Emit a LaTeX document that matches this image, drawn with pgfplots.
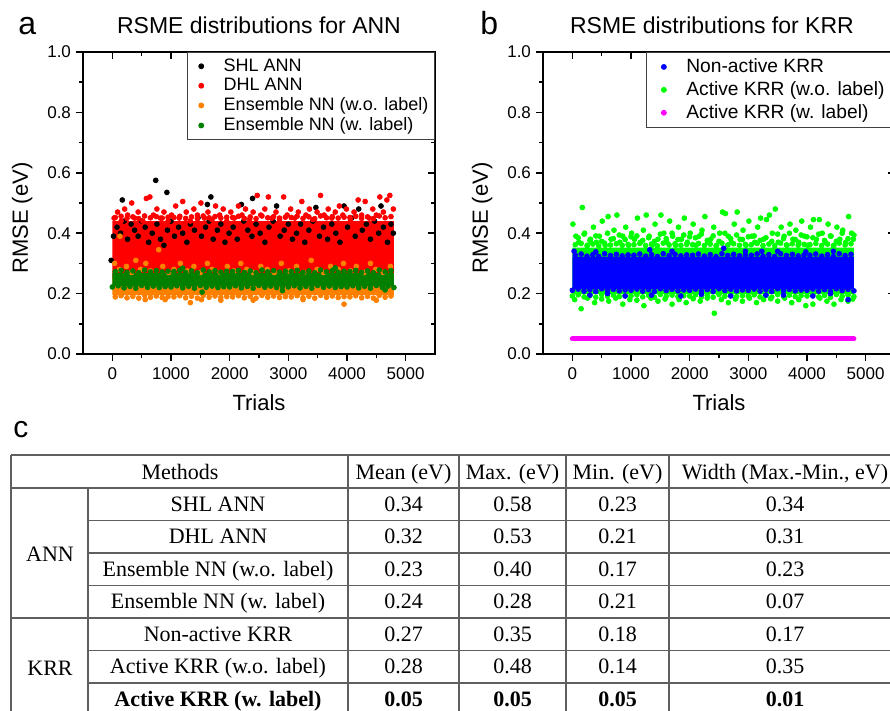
\documentclass[border=0pt]{standalone}
\usepackage{fontspec}
\setmainfont{Liberation Sans}
\newfontfamily\tabfont{Liberation Serif}
\usepackage{pgfplots}
\pgfplotsset{compat=1.18}

\definecolor{shl}{RGB}{0,0,0}
\definecolor{dhl}{RGB}{255,0,0}
\definecolor{ensA}{RGB}{255,128,0}
\definecolor{ensB}{RGB}{0,128,0}
\definecolor{nonact}{RGB}{0,0,255}
\definecolor{actA}{RGB}{0,255,0}
\definecolor{actB}{RGB}{255,0,255}
\definecolor{rule}{RGB}{95,95,95}

\pgfplotsset{
  rmse/.style={
    scale only axis, width=176pt, height=151pt,
    xmin=-500, xmax=5500, ymin=0, ymax=1,
    xtick={0,1000,2000,3000,4000,5000},
    ytick={0,0.2,0.4,0.6,0.8,1.0},
    minor x tick num=1, minor y tick num=1,
    axis line style={line width=0.8pt},
    major tick length=3.5pt, minor tick length=2pt,
    every tick/.style={black, line width=0.8pt},
  },
  ticksout/.style={
    rmse, tick pos=left, tick align=outside,
    /pgf/number format/assume math mode=true,
    tick label style={font=\fontsize{8.5}{10}\selectfont},
    xticklabel style={/pgf/number format/1000 sep={}},
    yticklabel style={/pgf/number format/fixed, /pgf/number format/fixed zerofill,
                      /pgf/number format/precision=1, xshift=1pt},
    label style={font=\fontsize{11}{13}\selectfont},
    title style={font=\fontsize{11.5}{13}\selectfont, at={(axis description cs:0.5,1)}, anchor=center, yshift=7.5pt},
    xlabel style={at={(axis description cs:0.5,0)}, anchor=center, yshift=-24.5pt},
    ylabel style={at={(axis description cs:-0.173,0.45)}, anchor=center},
    xlabel={Trials}, ylabel={RMSE (eV)},
    legend cell align=left,
    legend image code/.code={\path (0pt,0pt) (14.5pt,0pt); \draw[##1] plot coordinates {(5.5pt,0pt)};},
  },
  ticksin/.style={rmse, tick pos=right, tick align=inside, xticklabels={}, yticklabels={}},
  pts/.style={only marks, mark=*, mark size=1.2pt},
  dots/.style={pts, forget plot},
  band/.style={draw=none, fill=#1, forget plot},
}

\begin{document}
\begin{tikzpicture}
\useasboundingbox (0,0) rectangle (445pt,355.5pt);

% ---------------- panel a ----------------
\begin{axis}[ticksin, at={(41.5pt,178.5pt)}, anchor=south west]
\end{axis}
\begin{axis}[ticksout, at={(41.5pt,178.5pt)}, anchor=south west,
  title={RSME distributions for ANN},
  legend style={at={(1,1)}, anchor=north east, draw=black!75, line width=0.5pt,
    font=\fontsize{9}{10.5}\selectfont, inner xsep=1pt, inner ysep=1pt, row sep=-2pt}]
  % DHL ANN dense core
  \addplot[band=dhl] coordinates {(0,0.25) (0,0.44) (4800,0.44) (4800,0.25) (0,0.25)};
  % SHL ANN
  \addplot[dots, shl] coordinates {
    (170,0.51) (740,0.575) (930,0.535) (1680,0.52) (2390,0.515) (2200,0.495) (1620,0.495)
    (3950,0.49) (4580,0.49) (2800,0.49) (3470,0.485) (4200,0.48)
    (-20,0.31) (20,0.39) (80,0.42) (140,0.40) (200,0.44) (260,0.38) (320,0.43) (380,0.41)
    (440,0.39) (500,0.44) (560,0.42) (620,0.37) (680,0.40) (760,0.43) (820,0.38) (880,0.36)
    (940,0.41) (1000,0.44) (1060,0.39) (1130,0.42) (1200,0.40) (1270,0.37) (1330,0.43)
    (1400,0.41) (1460,0.45) (1520,0.39) (1590,0.42) (1650,0.44) (1720,0.38) (1790,0.41)
    (1850,0.43) (1920,0.37) (1990,0.40) (2060,0.42) (2130,0.38) (2240,0.44) (2310,0.41)
    (2380,0.39) (2450,0.43) (2520,0.40) (2600,0.37) (2670,0.42) (2740,0.44) (2860,0.39)
    (2930,0.41) (3000,0.43) (3070,0.38) (3140,0.40) (3210,0.43) (3280,0.37) (3350,0.41)
    (3420,0.44) (3530,0.39) (3600,0.42) (3670,0.38) (3740,0.43) (3810,0.40) (3880,0.37)
    (4010,0.42) (4080,0.45) (4140,0.39) (4260,0.41) (4330,0.43) (4400,0.38) (4470,0.44)
    (4540,0.40) (4620,0.42) (4690,0.37) (4750,0.43) (4790,0.40)};
  % DHL ANN upper spread
  \addplot[dots, dhl] coordinates {
    (50,.452) (150,.456) (250,.449) (350,.454) (450,.448) (550,.457) (650,.451) (750,.455) (850,.450) (950,.453)
    (1050,.452) (1150,.456) (1250,.449) (1350,.454) (1450,.448) (1550,.457) (1650,.451) (1750,.455) (1850,.450) (1950,.453)
    (2050,.452) (2150,.456) (2250,.449) (2350,.454) (2450,.448) (2550,.457) (2650,.451) (2750,.455) (2850,.450) (2950,.453)
    (3050,.452) (3150,.456) (3250,.449) (3350,.454) (3450,.448) (3550,.457) (3650,.451) (3750,.455) (3850,.450) (3950,.453)
    (4050,.452) (4150,.456) (4250,.449) (4350,.454) (4450,.448) (4550,.457) (4650,.451) (4750,.455)
    (30,0.45) (90,0.47) (150,0.44) (210,0.48) (260,0.46) (330,0.50) (380,0.45) (440,0.47)
    (520,0.44) (580,0.515) (640,0.52) (700,0.46) (760,0.48) (820,0.45) (880,0.47) (950,0.44)
    (1010,0.46) (1080,0.49) (1140,0.45) (1200,0.505) (1260,0.47) (1330,0.44) (1390,0.48)
    (1450,0.46) (1510,0.50) (1570,0.45) (1630,0.47) (1700,0.445) (1760,0.49) (1830,0.46)
    (1890,0.48) (1950,0.44) (2020,0.47) (2080,0.45) (2150,0.49) (2210,0.46) (2270,0.48)
    (2340,0.445) (2400,0.47) (2470,0.525) (2530,0.46) (2600,0.48) (2660,0.52) (2720,0.45)
    (2790,0.47) (2850,0.445) (2920,0.52) (2980,0.46) (3040,0.48) (3110,0.45) (3170,0.47)
    (3230,0.505) (3300,0.46) (3360,0.48) (3420,0.445) (3490,0.47) (3550,0.525) (3610,0.46)
    (3680,0.48) (3740,0.45) (3800,0.47) (3870,0.49) (3930,0.46) (3990,0.48) (4060,0.445)
    (4120,0.47) (4190,0.51) (4250,0.46) (4310,0.505) (4380,0.45) (4440,0.48) (4500,0.46)
    (4560,0.52) (4620,0.47) (4680,0.51) (4730,0.525) (4790,0.48)};
  % Ensemble NN (w.o. label)
  \addplot[band=ensA] coordinates {(0,0.26) (0,0.195) (4800,0.195) (4800,0.26) (0,0.26)};
  \addplot[dots, ensA] coordinates {
    (50,.189) (150,.193) (250,.186) (350,.191) (450,.185) (550,.194) (650,.188) (750,.192) (850,.187) (950,.190)
    (1050,.189) (1150,.193) (1250,.186) (1350,.191) (1450,.185) (1550,.194) (1650,.188) (1750,.192) (1850,.187) (1950,.190)
    (2050,.189) (2150,.193) (2250,.186) (2350,.191) (2450,.185) (2550,.194) (2650,.188) (2750,.192) (2850,.187) (2950,.190)
    (3050,.189) (3150,.193) (3250,.186) (3350,.191) (3450,.185) (3550,.194) (3650,.188) (3750,.192) (3850,.187) (3950,.190)
    (4050,.189) (4150,.193) (4250,.186) (4350,.191) (4450,.185) (4550,.194) (4650,.188) (4750,.192)
    (40,0.30) (120,0.28) (130,0.39) (240,0.29) (330,0.27) (400,0.31) (480,0.28) (570,0.30)
    (650,0.275) (790,0.345) (860,0.29) (960,0.27) (1050,0.28) (1160,0.30) (1280,0.275)
    (1390,0.29) (1500,0.27) (1620,0.30) (1700,0.28) (1840,0.27) (1960,0.29) (2070,0.275)
    (2190,0.30) (2290,0.28) (2400,0.27) (2530,0.29) (2640,0.28) (2760,0.27) (2880,0.30)
    (3010,0.275) (3140,0.29) (3260,0.27) (3390,0.31) (3490,0.28) (3600,0.27) (3720,0.29)
    (3850,0.28) (3940,0.30) (4060,0.275) (4160,0.29) (4290,0.27) (4400,0.30) (4490,0.28)
    (4620,0.27) (4740,0.29)
    (1330,0.17) (3950,0.165) (1520,0.18) (900,0.18) (2400,0.178) (3250,0.18) (4500,0.178)
    (560,0.18) (1850,0.178)};
  % Ensemble NN (w. label)
  \addplot[band=ensB] coordinates {(0,0.225) (0,0.268) (4800,0.268) (4800,0.225) (0,0.225)};
  \addplot[dots, ensB] coordinates {
    (50,.273) (150,.277) (250,.270) (350,.275) (450,.269) (550,.278) (650,.272) (750,.276) (850,.271) (950,.274)
    (1050,.273) (1150,.277) (1250,.270) (1350,.275) (1450,.269) (1550,.278) (1650,.272) (1750,.276) (1850,.271) (1950,.274)
    (2050,.273) (2150,.277) (2250,.270) (2350,.275) (2450,.269) (2550,.278) (2650,.272) (2750,.276) (2850,.271) (2950,.274)
    (3050,.273) (3150,.277) (3250,.270) (3350,.275) (3450,.269) (3550,.278) (3650,.272) (3750,.276) (3850,.271) (3950,.274)
    (4050,.273) (4150,.277) (4250,.270) (4350,.275) (4450,.269) (4550,.278) (4650,.272) (4750,.276)
    (0,.222) (100,.226) (200,.219) (300,.224) (400,.218) (500,.227) (600,.221) (700,.225) (800,.220) (900,.223)
    (1000,.222) (1100,.226) (1200,.219) (1300,.224) (1400,.218) (1500,.227) (1600,.221) (1700,.225) (1800,.220) (1900,.223)
    (2000,.222) (2100,.226) (2200,.219) (2300,.224) (2400,.218) (2500,.227) (2600,.221) (2700,.225) (2800,.220) (2900,.223)
    (3000,.222) (3100,.226) (3200,.219) (3300,.224) (3400,.218) (3500,.227) (3600,.221) (3700,.225) (3800,.220) (3900,.223)
    (4000,.222) (4100,.226) (4200,.219) (4300,.224) (4400,.218) (4500,.227) (4600,.221) (4700,.225) (4800,.220)
    (1530,0.205) (4650,0.212) (2900,0.21) (3800,0.285) (1200,0.284)};
  \addlegendimage{pts, shl}\addlegendentry{SHL ANN}
  \addlegendimage{pts, dhl}\addlegendentry{DHL ANN}
  \addlegendimage{pts, ensA}\addlegendentry{Ensemble NN (w.o. label)}
  \addlegendimage{pts, ensB}\addlegendentry{Ensemble NN (w. label)}
\end{axis}

% ---------------- panel b ----------------
\begin{axis}[ticksin, at={(271.5pt,178.5pt)}, anchor=south west]
\end{axis}
\begin{axis}[ticksout, at={(271.5pt,178.5pt)}, anchor=south west,
  title={RSME distributions for KRR},
  title style={at={(axis description cs:0.48,1)}},
  legend style={at={(1,1)}, anchor=north east, draw=black!75, line width=0.5pt,
    font=\fontsize{9.6}{11.5}\selectfont, inner xsep=3pt, inner ysep=1pt, row sep=-1pt}]
  % Active KRR (w.o. label)
  \addplot[band=actA] coordinates {(0,0.198) (0,0.352) (4800,0.352) (4800,0.198) (0,0.198)};
  \addplot[dots, actA] coordinates {
    (50,.362) (150,.366) (250,.359) (350,.364) (450,.358) (550,.367) (650,.361) (750,.365) (850,.360) (950,.363)
    (1050,.362) (1150,.366) (1250,.359) (1350,.364) (1450,.358) (1550,.367) (1650,.361) (1750,.365) (1850,.360) (1950,.363)
    (2050,.362) (2150,.366) (2250,.359) (2350,.364) (2450,.358) (2550,.367) (2650,.361) (2750,.365) (2850,.360) (2950,.363)
    (3050,.362) (3150,.366) (3250,.359) (3350,.364) (3450,.358) (3550,.367) (3650,.361) (3750,.365) (3850,.360) (3950,.363)
    (4050,.362) (4150,.366) (4250,.359) (4350,.364) (4450,.358) (4550,.367) (4650,.361) (4750,.365)
    (100,.385) (200,.397) (300,.376) (400,.391) (500,.373) (600,.400) (700,.382) (800,.394) (900,.379) (1000,.388)
    (1100,.391) (1200,.376) (1300,.385) (1400,.373) (1500,.397) (1600,.382) (1700,.400) (1800,.379) (1900,.394) (2000,.388)
    (2100,.385) (2200,.397) (2300,.376) (2400,.391) (2500,.373) (2600,.400) (2700,.382) (2800,.394) (2900,.379) (3000,.388)
    (3100,.391) (3200,.376) (3300,.385) (3400,.373) (3500,.397) (3600,.382) (3700,.400) (3800,.379) (3900,.394) (4000,.388)
    (4100,.385) (4200,.397) (4300,.376) (4400,.391) (4500,.373) (4600,.400) (4700,.382) (4800,.394)
    (10,0.43) (60,0.39) (110,0.37) (170,0.485) (210,0.40) (260,0.36) (310,0.38) (360,0.42)
    (410,0.37) (460,0.39) (510,0.44) (560,0.36) (610,0.455) (660,0.38) (710,0.41) (760,0.46)
    (810,0.37) (860,0.39) (910,0.42) (960,0.36) (1010,0.40) (1060,0.38) (1110,0.45) (1160,0.37)
    (1210,0.41) (1260,0.46) (1310,0.39) (1360,0.36) (1410,0.43) (1460,0.38) (1510,0.46)
    (1560,0.40) (1610,0.37) (1660,0.44) (1710,0.39) (1760,0.36) (1810,0.42) (1860,0.38)
    (1910,0.45) (1960,0.37) (2010,0.40) (2060,0.43) (2110,0.36) (2160,0.39) (2210,0.41)
    (2260,0.455) (2310,0.37) (2360,0.38) (2410,0.42) (2460,0.36) (2510,0.40) (2560,0.47)
    (2610,0.465) (2660,0.39) (2710,0.37) (2760,0.43) (2810,0.47) (2860,0.38) (2910,0.41)
    (2960,0.36) (3010,0.44) (3060,0.39) (3110,0.37) (3160,0.42) (3210,0.45) (3260,0.38)
    (3310,0.445) (3360,0.46) (3410,0.40) (3460,0.48) (3510,0.37) (3560,0.42) (3610,0.39)
    (3660,0.36) (3710,0.43) (3760,0.38) (3810,0.41) (3860,0.37) (3910,0.44) (3960,0.39)
    (4010,0.36) (4060,0.42) (4110,0.445) (4160,0.38) (4210,0.445) (4260,0.40) (4310,0.37)
    (4360,0.43) (4410,0.39) (4460,0.36) (4510,0.42) (4560,0.38) (4610,0.41) (4660,0.37)
    (4710,0.455) (4760,0.40) (4790,0.38)
    (0,.192) (100,.196) (200,.189) (300,.194) (400,.188) (500,.197) (600,.191) (700,.195) (800,.190) (900,.193)
    (1000,.192) (1100,.196) (1200,.189) (1300,.194) (1400,.188) (1500,.197) (1600,.191) (1700,.195) (1800,.190) (1900,.193)
    (2000,.192) (2100,.196) (2200,.189) (2300,.194) (2400,.188) (2500,.197) (2600,.191) (2700,.195) (2800,.190) (2900,.193)
    (3000,.192) (3100,.196) (3200,.189) (3300,.194) (3400,.188) (3500,.197) (3600,.191) (3700,.195) (3800,.190) (3900,.193)
    (4000,.192) (4100,.196) (4200,.189) (4300,.194) (4400,.188) (4500,.197) (4600,.191) (4700,.195) (4800,.190)
    (40,0.18) (150,0.15) (260,0.185) (380,0.17) (500,0.182) (620,0.175) (740,0.185) (860,0.165)
    (980,0.18) (1100,0.178) (1220,0.16) (1340,0.185) (1460,0.175) (1580,0.182) (1700,0.165)
    (1820,0.18) (1940,0.17) (2060,0.183) (2180,0.175) (2300,0.185) (2420,0.135) (2540,0.18)
    (2660,0.17) (2780,0.182) (2900,0.175) (3020,0.185) (3140,0.17) (3260,0.18) (3380,0.183)
    (3500,0.175) (3620,0.185) (3740,0.17) (3860,0.18) (3980,0.16) (4100,0.165) (4220,0.185)
    (4340,0.175) (4460,0.165) (4580,0.18) (4700,0.175) (4780,0.182)};
  % Non-active KRR
  \addplot[band=nonact] coordinates {(0,0.215) (0,0.322) (4800,0.322) (4800,0.215) (0,0.215)};
  \addplot[dots, nonact] coordinates {
    (50,.327) (150,.331) (250,.324) (350,.329) (450,.323) (550,.332) (650,.326) (750,.330) (850,.325) (950,.328)
    (1050,.327) (1150,.331) (1250,.324) (1350,.329) (1450,.323) (1550,.332) (1650,.326) (1750,.330) (1850,.325) (1950,.328)
    (2050,.327) (2150,.331) (2250,.324) (2350,.329) (2450,.323) (2550,.332) (2650,.326) (2750,.330) (2850,.325) (2950,.328)
    (3050,.327) (3150,.331) (3250,.324) (3350,.329) (3450,.323) (3550,.332) (3650,.326) (3750,.330) (3850,.325) (3950,.328)
    (4050,.327) (4150,.331) (4250,.324) (4350,.329) (4450,.323) (4550,.332) (4650,.326) (4750,.330)
    (0,.211) (100,.215) (200,.208) (300,.213) (400,.207) (500,.216) (600,.210) (700,.214) (800,.209) (900,.212)
    (1000,.211) (1100,.215) (1200,.208) (1300,.213) (1400,.207) (1500,.216) (1600,.210) (1700,.214) (1800,.209) (1900,.212)
    (2000,.211) (2100,.215) (2200,.208) (2300,.213) (2400,.207) (2500,.216) (2600,.210) (2700,.214) (2800,.209) (2900,.212)
    (3000,.211) (3100,.215) (3200,.208) (3300,.213) (3400,.207) (3500,.216) (3600,.210) (3700,.214) (3800,.209) (3900,.212)
    (4000,.211) (4100,.215) (4200,.208) (4300,.213) (4400,.207) (4500,.216) (4600,.210) (4700,.214) (4800,.209)
    (30,0.34) (400,0.338) (1320,0.345) (1700,0.34) (2580,0.35) (2950,0.34) (3230,0.34)
    (3500,0.34) (3980,0.338) (4450,0.34) (300,0.195) (900,0.192) (1350,0.195) (1850,0.192)
    (2200,0.198) (2700,0.192) (3300,0.195) (3600,0.195) (4100,0.192) (4700,0.18) (4400,0.2)
    (600,0.2)};
  % Active KRR (w. label)
  \addplot[actB, line width=2.5pt, line cap=round, forget plot] coordinates {(0,0.05) (4800,0.05)};
  \addlegendimage{pts, nonact}\addlegendentry{Non-active KRR}
  \addlegendimage{pts, actA}\addlegendentry{Active KRR (w.o. label)}
  \addlegendimage{pts, actB}\addlegendentry{Active KRR (w. label)}
\end{axis}

% ---------------- panel letters and table c ----------------
\begin{scope}[x=0.5pt, y=-0.5pt, yshift=355.5pt]
  \node[font=\fontsize{16}{16}\selectfont, anchor=base west, inner sep=0pt] at (18,35) {a};
  \node[font=\fontsize{16}{16}\selectfont, anchor=base west, inner sep=0pt] at (480,35) {b};
  \node[font=\fontsize{15}{15}\selectfont, anchor=base west, inner sep=0pt] at (13,438) {c};
  \begin{scope}[rule, line width=0.7pt]
    \draw (11,455) -- (905,455);
    \draw (11,488) -- (905,488);
    \draw (11,618) -- (905,618);
    \foreach \yy in {520.5,553,585.5,650.5,683} \draw (88,\yy) -- (905,\yy);
    \foreach \xx in {11,348,459,566,669} \draw (\xx,455) -- (\xx,720);
    \draw (88,488) -- (88,720);
  \end{scope}
  \begin{scope}[every node/.style={anchor=base, inner sep=0pt, font=\tabfont\fontsize{11}{13}\selectfont}]
    \node at (180,479.5) {Methods};
    \node at (403.5,479.5) {Mean (eV)};
    \node at (512.5,479.5) {Max. (eV)};
    \node at (617.5,479.5) {Min. (eV)};
    \node at (785,479.5) {Width (Max.-Min., eV)};
    \node at (50,562) {ANN};
    \node at (50,676) {KRR};
    \node at (218,511.5) {SHL ANN};
    \node at (218,544) {DHL ANN};
    \node at (218,576.5) {Ensemble NN (w.o. label)};
    \node at (218,609) {Ensemble NN (w. label)};
    \node at (218,641.5) {Non-active KRR};
    \node at (218,674) {Active KRR (w.o. label)};
    \node at (218,706.5) {\bfseries Active KRR (w. label)};
    \node at (403.5,511.5) {0.34}; \node at (512.5,511.5) {0.58}; \node at (617.5,511.5) {0.23}; \node at (785,511.5) {0.34};
    \node at (403.5,544) {0.32};   \node at (512.5,544) {0.53};   \node at (617.5,544) {0.21};   \node at (785,544) {0.31};
    \node at (403.5,576.5) {0.23}; \node at (512.5,576.5) {0.40}; \node at (617.5,576.5) {0.17}; \node at (785,576.5) {0.23};
    \node at (403.5,609) {0.24};   \node at (512.5,609) {0.28};   \node at (617.5,609) {0.21};   \node at (785,609) {0.07};
    \node at (403.5,641.5) {0.27}; \node at (512.5,641.5) {0.35}; \node at (617.5,641.5) {0.18}; \node at (785,641.5) {0.17};
    \node at (403.5,674) {0.28};   \node at (512.5,674) {0.48};   \node at (617.5,674) {0.14};   \node at (785,674) {0.35};
    \node at (403.5,706.5) {\bfseries 0.05}; \node at (512.5,706.5) {\bfseries 0.05};
    \node at (617.5,706.5) {\bfseries 0.05}; \node at (785,706.5) {\bfseries 0.01};
  \end{scope}
\end{scope}
\end{tikzpicture}
\end{document}
